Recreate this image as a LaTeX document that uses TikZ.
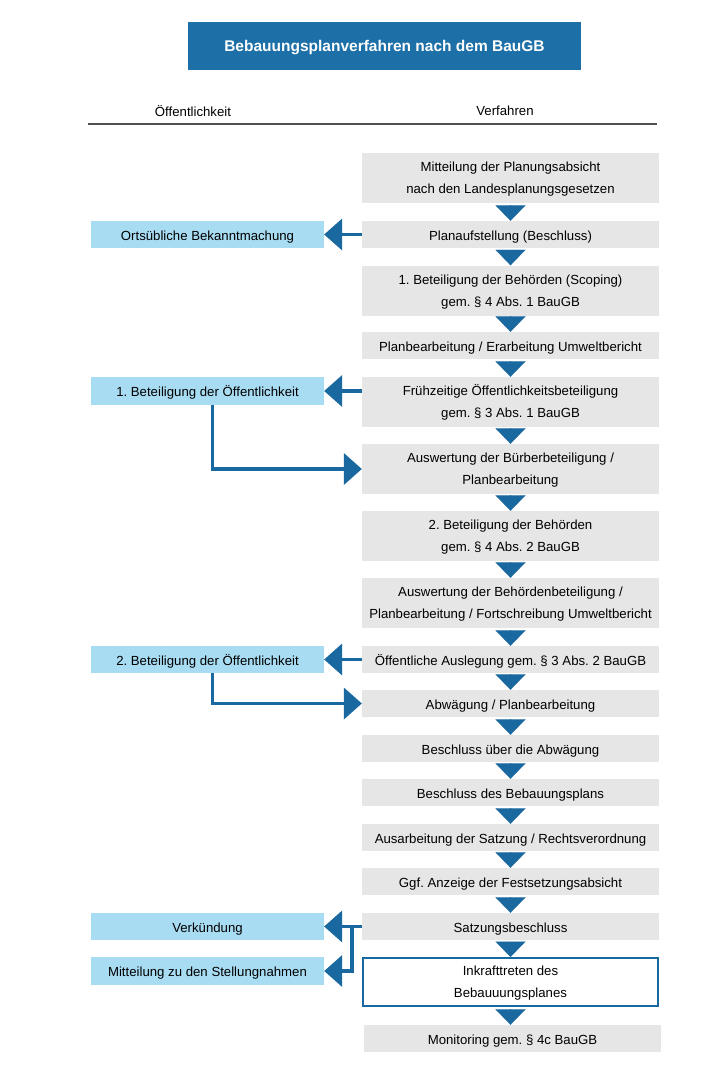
\documentclass[tikz,border=0pt]{standalone}
\usepackage{fontspec}
\setmainfont{Liberation Sans}
\usetikzlibrary{arrows.meta,calc}
\definecolor{titleblue}{RGB}{29,111,168}
\definecolor{arrowblue}{RGB}{26,104,160}
\definecolor{boxgray}{RGB}{230,230,230}
\definecolor{lightblue}{RGB}{168,220,242}
\definecolor{rulegray}{RGB}{80,80,80}
\frenchspacing
\begin{document}
\begin{tikzpicture}[x=1pt,y=-1pt,
  every node/.style={font=\fontsize{13.2}{22}\selectfont, inner sep=0pt, align=center},
  boxtext/.style={text height=14.5pt, text depth=3pt},
  boxtexttwo/.style={text height=34.5pt, text depth=3pt},
  procbox/.style={boxtext, fill=boxgray, minimum width=297pt, minimum height=27pt},
  procboxtwo/.style={boxtexttwo, fill=boxgray, minimum width=297pt, minimum height=50pt},
  pubbox/.style={boxtext, fill=lightblue, minimum width=233pt, minimum height=28pt},
  downarrow/.style={draw=arrowblue, line width=0.1pt, -{Triangle[width=30pt,length=15.5pt,fill=arrowblue]}},
  sidearrow/.style={draw=arrowblue, line width=3.5pt, -{Triangle[width=32pt,length=18pt,fill=arrowblue,line width=0pt]}},
]
\useasboundingbox (0,0) rectangle (721,1070);
% title and header
\node[fill=titleblue, minimum width=393pt, minimum height=48pt, text=white, text height=15pt, text depth=3pt, font=\fontsize{15.5}{18}\selectfont\bfseries] (title) at (384.5,46) {Bebauungsplanverfahren nach dem BauGB};
\node (hpub) at (193,111) {Öffentlichkeit};
\node (hproc) at (505,111) {Verfahren};
\coordinate (rl) at (88,124);
\coordinate (rr) at (657,124);
\draw[rulegray, line width=1.5pt] (rl) -- (rr);
% procedure column
\node[procboxtwo] (b1) at (510.5,178) {Mitteilung der Planungsabsicht\\nach den Landesplanungsgesetzen};
\node[procbox] (b2) at (510.5,234.5) {Planaufstellung (Beschluss)};
\node[procboxtwo] (b3) at (510.5,290.5) {1. Beteiligung der Behörden (Scoping)\\gem. § 4 Abs. 1 BauGB};
\node[procbox] (b4) at (510.5,345.5) {Planbearbeitung / Erarbeitung Umweltbericht};
\node[procboxtwo] (b5) at (510.5,402) {Frühzeitige Öffentlichkeitsbeteiligung\\gem. § 3 Abs. 1 BauGB};
\node[procboxtwo] (b6) at (510.5,469) {Auswertung der Bürberbeteiligung /\\Planbearbeitung};
\node[procboxtwo] (b7) at (510.5,536) {2. Beteiligung der Behörden\\gem. § 4 Abs. 2 BauGB};
\node[procboxtwo] (b8) at (510.5,603) {Auswertung der Behördenbeteiligung /\\Planbearbeitung / Fortschreibung Umweltbericht};
\node[procbox] (b9) at (510.5,659.5) {Öffentliche Auslegung gem. § 3 Abs. 2 BauGB};
\node[procbox] (b10) at (510.5,703.5) {Abwägung / Planbearbeitung};
\node[procbox] (b11) at (510.5,748.5) {Beschluss über die Abwägung};
\node[procbox] (b12) at (510.5,792.5) {Beschluss des Bebauungsplans};
\node[procbox] (b13) at (510.5,837.5) {Ausarbeitung der Satzung / Rechtsverordnung};
\node[procbox] (b14) at (510.5,881.5) {Ggf. Anzeige der Festsetzungsabsicht};
\node[procbox] (b15) at (510.5,926.5) {Satzungsbeschluss};
\node[boxtexttwo, draw=arrowblue, line width=2pt, fill=white, minimum width=295pt, minimum height=48pt] (b16) at (510.5,982) {Inkrafttreten des\\Bebauuungsplanes};
\node[procbox] (b17) at (512.5,1038.5) {Monitoring gem. § 4c BauGB};
% down arrows (path exactly as long as the tip, so only the triangle shows)
\foreach \a/\b in {b1/b2,b2/b3,b3/b4,b4/b5,b5/b6,b6/b7,b7/b8,b8/b9,b9/b10,b10/b11,b11/b12,b12/b13,b13/b14,b14/b15,b15/b16,b16/b17}{
  \draw[downarrow] ([yshift=15.5pt]\a.south |- \b.north) -- (\a.south |- \b.north);
}
% public column
\node[pubbox, minimum height=27pt] (o1) at (207.5,234.5) {Ortsübliche Bekanntmachung};
\node[pubbox] (o2) at (207.5,391) {1. Beteiligung der Öffentlichkeit};
\node[pubbox, minimum height=27pt] (o3) at (207.5,659.5) {2. Beteiligung der Öffentlichkeit};
\node[pubbox, minimum height=27pt] (o4) at (207.5,926.5) {Verkündung};
\node[pubbox] (o5) at (207.5,971) {Mitteilung zu den Stellungnahmen};
% side arrows
\draw[sidearrow] (b2.west) -- (o1.east);
\draw[sidearrow] (o2.east -| b5.west) -- (o2.east);
\draw[sidearrow] ([xshift=5pt]o2.south) |- (b6.west);
\draw[sidearrow] (b9.west) -- (o3.east);
\draw[sidearrow] ([xshift=5pt]o3.south) |- (b10.west);
\draw[sidearrow] (b15.west) -- (o4.east);
\coordinate (j) at ($(b15.west)+(-10,0)$);
\draw[sidearrow] (j) |- (o5.east);
\end{tikzpicture}
\end{document}
